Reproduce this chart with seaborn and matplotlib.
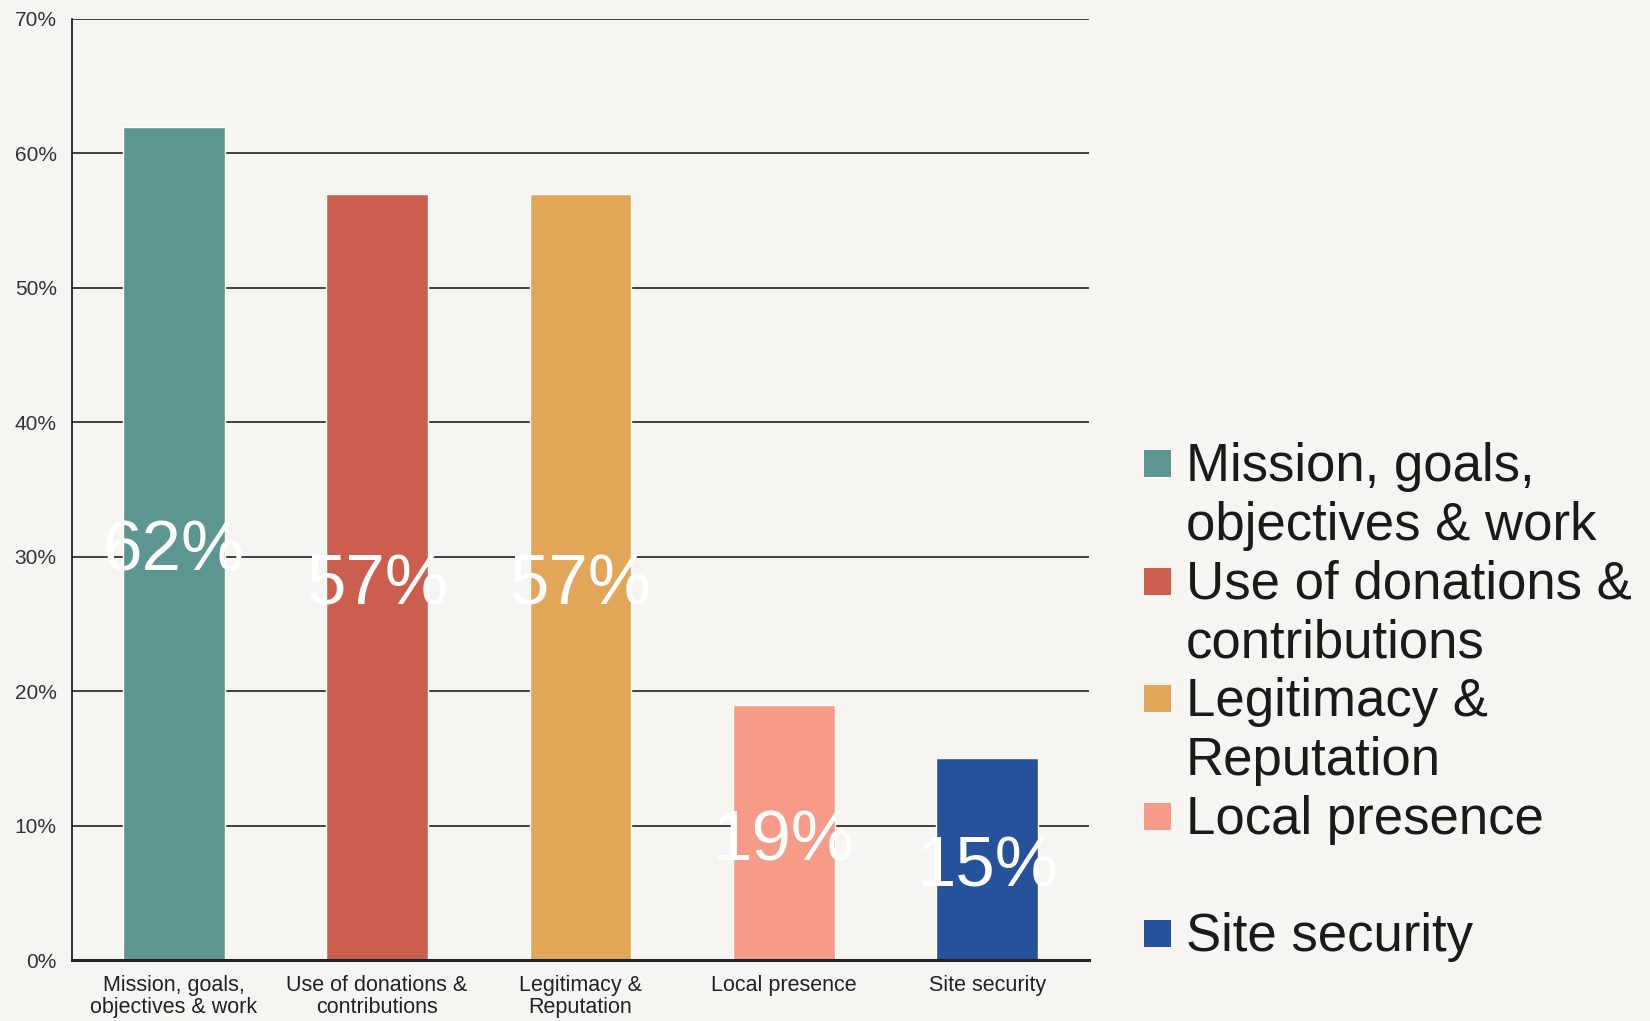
import matplotlib
matplotlib.use("Agg")
import matplotlib.pyplot as plt
from matplotlib.patches import Rectangle
import seaborn as sns

# data
categories = ["Mission, goals, objectives & work", "Use of donations & contributions",
              "Legitimacy & Reputation", "Local presence", "Site security"]
tick_labels = ["Mission, goals,\nobjectives & work", "Use of donations &\ncontributions",
               "Legitimacy &\nReputation", "Local presence", "Site security"]
legend_labels = ["Mission, goals,\nobjectives & work", "Use of donations &\ncontributions",
                 "Legitimacy &\nReputation", "Local presence\n", "Site security"]
values = [62, 57, 57, 19, 15]
colors = ["#5B9691", "#CC5E4D", "#E2A658", "#F59B87", "#25529A"]
yticks = [0, 10, 20, 30, 40, 50, 60, 70]

sns.set_style("white")
plt.rcParams["font.family"] = ["Liberation Sans", "DejaVu Sans"]

bg = "#F7F5F1"
W, H = 1650, 1021
fig = plt.figure(figsize=(W / 100, H / 100), dpi=100, facecolor=bg)
ax = fig.add_axes([72 / W, 1 - 960 / H, (1089 - 72) / W, (960 - 19) / H])
ax.set_facecolor(bg)

sns.barplot(x=categories, y=values, hue=categories, palette=colors, width=0.5,
            legend=False, saturation=1, ax=ax, zorder=2)

for cont, v in zip(ax.containers, values):
    ax.bar_label(cont, labels=[f"{v}%"], label_type="center", color="white",
                 fontsize=51, padding=-7, zorder=5)

ax.set_ylim(0, 70)
ax.set_xlim(-0.5, 4.5)
ax.set_yticks(yticks)
ax.set_yticklabels([f"{t}%" for t in yticks], fontsize=15, color="#333333")
ax.set_xticks(range(len(categories)))
ax.set_xticklabels(tick_labels, fontsize=15.5, color="#222222", linespacing=1.05)
ax.set_xticks([i - 0.5 for i in range(len(categories) + 1)], minor=True)
ax.tick_params(axis="x", which="major", length=0, pad=11)
ax.tick_params(axis="x", which="minor", length=7, width=1.2, color="#222222", direction="out")
ax.tick_params(axis="y", length=5, width=1.2, color="#222222", direction="out", pad=6)
ax.set_xlabel("")
ax.set_ylabel("")

ax.grid(axis="y", color="#222222", linewidth=1.2, zorder=0)
ax.set_axisbelow(True)
for s in ["top", "right"]:
    ax.spines[s].set_visible(False)
ax.spines["left"].set_color("#222222")
ax.spines["left"].set_linewidth(1.3)
ax.spines["bottom"].set_color("#222222")
ax.spines["bottom"].set_linewidth(2.2)

# legend drawn by hand so that each square sits at the first line of its label
line_h = 58.8
baseline = 481
for lab, col in zip(legend_labels, colors):
    fig.patches.append(Rectangle((1144 / W, 1 - (baseline - 4) / H), 27 / W, 27 / H,
                                 transform=fig.transFigure, facecolor=col, edgecolor="none"))
    for line in lab.split("\n"):
        if line:
            fig.text(1186 / W, 1 - baseline / H, line, fontsize=38, color="#1a1a1a",
                     va="baseline", ha="left")
        baseline += line_h

fig.savefig("out.png", dpi=100, facecolor=bg)
